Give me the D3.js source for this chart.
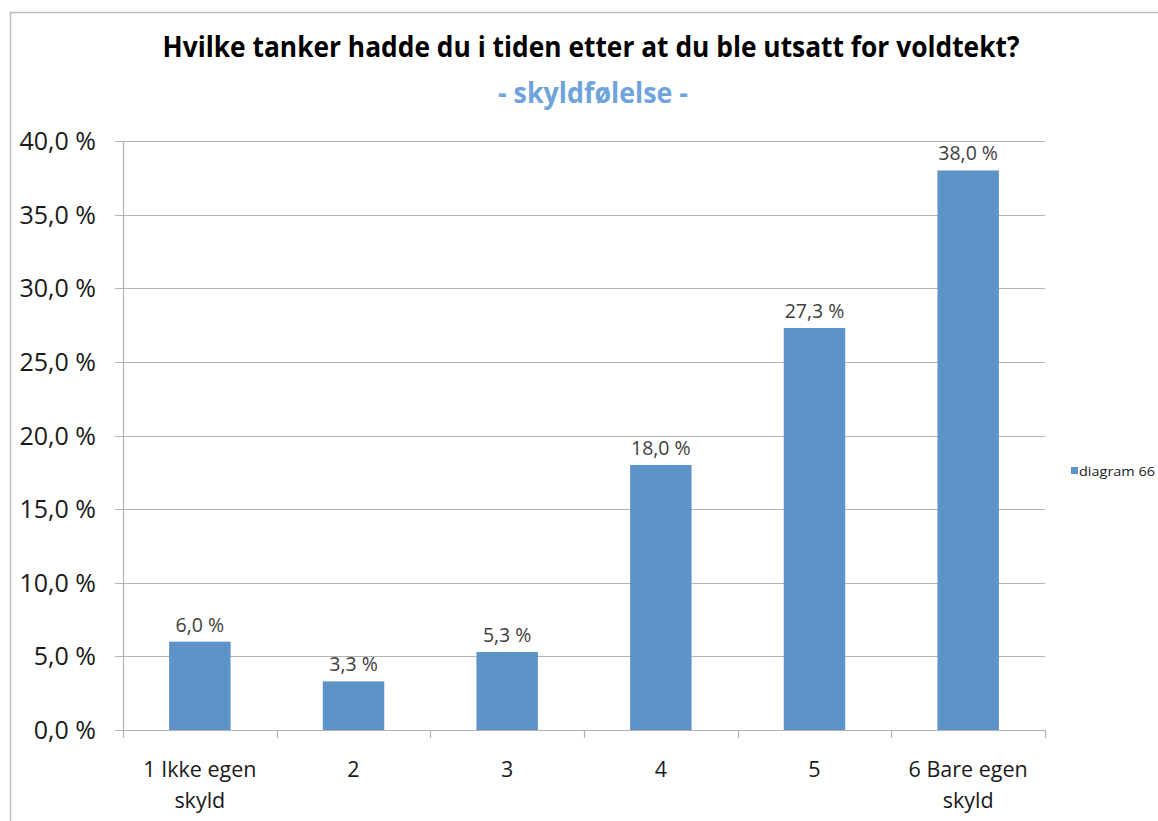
<!DOCTYPE html>
<html>
<head>
<meta charset="utf-8">
<script src="https://cdn.jsdelivr.net/npm/d3@7"></script>
<style>
  body { margin: 0; background: #fff; }
  text { font-family: "Open Sans", "Noto Sans", sans-serif; }
</style>
</head>
<body>
<div id="chart"></div>
<script>
const categories = ['1 Ikke egen|skyld', '2', '3', '4', '5', '6 Bare egen|skyld']
const values = [6.0, 3.3, 5.3, 18.0, 27.3, 38.0]
const yTicks = [0, 5, 10, 15, 20, 25, 30, 35, 40]
const title = 'Hvilke tanker hadde du i tiden etter at du ble utsatt for voldtekt?'
const subtitle = '- skyldfølelse -'
const seriesName = 'diagram 66'

const width = 1158
const height = 821
const plot = {left: 123, right: 1045, top: 141, bottom: 730}
const barColor = '#5d93c7'
const gridColor = '#b3b3b3'

const fmt = v => v.toFixed(1).replace('.', ',') + ' %'

const svg = d3.select('#chart').append('svg')
  .attr('width', width)
  .attr('height', height)

// outer frame
svg.append('rect')
  .attr('x', 10.5).attr('y', 12.5)
  .attr('width', width + 20).attr('height', height + 20)
  .attr('fill', 'none')
  .attr('stroke', '#bdbdbd')
  .attr('stroke-width', 1.5)

const x = d3.scaleBand()
  .domain(categories)
  .range([plot.left, plot.right])
  .paddingInner(0.6)
  .paddingOuter(0.3)

const y = d3.scaleLinear()
  .domain([0, 40])
  .range([plot.bottom, plot.top])

// gridlines + y ticks
svg.append('g')
  .selectAll('line')
  .data(yTicks)
  .enter()
  .append('line')
  .attr('x1', plot.left - 8)
  .attr('x2', plot.right)
  .attr('y1', d => Math.round(y(d)) + 0.5)
  .attr('y2', d => Math.round(y(d)) + 0.5)
  .attr('stroke', gridColor)
  .attr('stroke-width', 1.2)

svg.append('g')
  .selectAll('text')
  .data(yTicks)
  .enter()
  .append('text')
  .attr('x', 96)
  .attr('y', d => y(d) + 9)
  .attr('text-anchor', 'end')
  .attr('font-size', 25)
  .attr('fill', '#1a1a1a')
  .text(d => fmt(d))

// y axis line
svg.append('line')
  .attr('x1', plot.left + 0.5).attr('x2', plot.left + 0.5)
  .attr('y1', plot.top).attr('y2', plot.bottom)
  .attr('stroke', gridColor)
  .attr('stroke-width', 1.2)

// x category ticks
const tickXs = d3.range(categories.length + 1).map(i => plot.left + i * (plot.right - plot.left) / categories.length)
svg.append('g')
  .selectAll('line')
  .data(tickXs)
  .enter()
  .append('line')
  .attr('x1', d => Math.round(d) + 0.5)
  .attr('x2', d => Math.round(d) + 0.5)
  .attr('y1', plot.bottom)
  .attr('y2', plot.bottom + 8)
  .attr('stroke', gridColor)
  .attr('stroke-width', 1.2)

// bars
svg.append('g')
  .selectAll('rect')
  .data(values)
  .enter()
  .append('rect')
  .attr('x', (d, i) => x(categories[i]))
  .attr('width', x.bandwidth())
  .attr('y', d => y(d))
  .attr('height', d => y(0) - y(d))
  .attr('fill', barColor)

// data labels
svg.append('g')
  .selectAll('text')
  .data(values)
  .enter()
  .append('text')
  .attr('x', (d, i) => x(categories[i]) + x.bandwidth() / 2)
  .attr('y', d => y(d) - 10)
  .attr('text-anchor', 'middle')
  .attr('font-size', 19.5)
  .attr('fill', '#404040')
  .text(d => fmt(d))

// category labels
const catLabels = svg.append('g')
  .selectAll('text')
  .data(categories)
  .enter()
  .append('text')
  .attr('x', d => x(d) + x.bandwidth() / 2)
  .attr('y', 777)
  .attr('text-anchor', 'middle')
  .attr('font-size', 21.5)
  .attr('fill', '#1a1a1a')

catLabels.selectAll('tspan')
  .data(d => d.split('|'))
  .enter()
  .append('tspan')
  .attr('x', function () { return d3.select(this.parentNode).attr('x') })
  .attr('dy', (d, i) => i === 0 ? 0 : 31)
  .text(d => d)

// title
svg.append('text')
  .attr('x', 591)
  .attr('y', 57)
  .attr('text-anchor', 'middle')
  .attr('font-size', 29)
  .attr('font-weight', 'bold')
  .attr('fill', '#000')
  .attr('textLength', 857)
  .attr('lengthAdjust', 'spacingAndGlyphs')
  .text(title)

svg.append('text')
  .attr('x', 593)
  .attr('y', 103)
  .attr('text-anchor', 'middle')
  .attr('font-size', 29)
  .attr('font-weight', 'bold')
  .attr('fill', '#6fa3db')
  .attr('textLength', 190)
  .attr('lengthAdjust', 'spacingAndGlyphs')
  .text(subtitle)

// legend
svg.append('rect')
  .attr('x', 1071).attr('y', 467)
  .attr('width', 7).attr('height', 7)
  .attr('fill', barColor)

svg.append('text')
  .attr('x', 1079)
  .attr('y', 476)
  .attr('font-size', 13)
  .attr('fill', '#1a1a1a')
  .attr('textLength', 76)
  .attr('lengthAdjust', 'spacingAndGlyphs')
  .text(seriesName)
</script>
</body>
</html>
